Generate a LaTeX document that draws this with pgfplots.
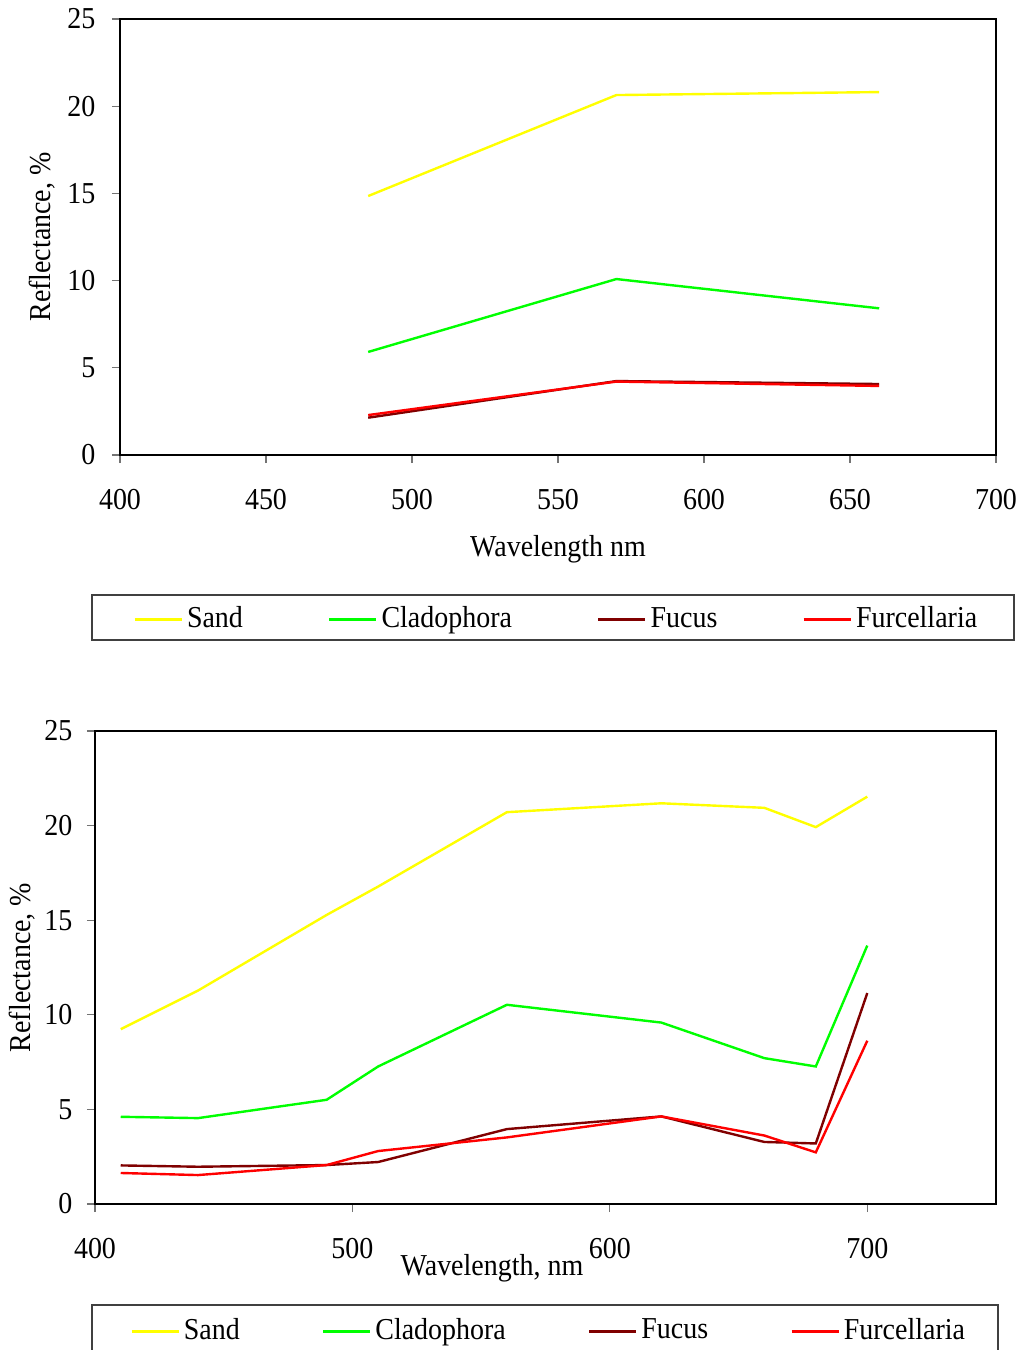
\documentclass[border=0pt]{standalone}
\usepackage{fontspec}
\setmainfont{Liberation Serif}[FakeStretch=0.92]
\usepackage{pgfplots}
\pgfplotsset{compat=1.18}

\definecolor{sandc}{RGB}{255,255,0}
\definecolor{cladc}{RGB}{0,255,0}
\definecolor{fucc}{RGB}{128,0,0}
\definecolor{furc}{RGB}{255,0,0}

\pgfplotsset{
  refl/.style={
    scale only axis,
    axis line style={line width=1pt},
    tick pos=left,
    tick align=outside,
    major tick length=4pt,
    tick style={black!55, line width=0.6pt},
    ymin=0, ymax=25, ytick={0,5,...,25},
    /pgf/number format/assume math mode=true,
    ylabel={Reflectance, \%},
    legend columns=4,
    legend image code/.code={\draw[#1, line width=1.3pt] (0pt,0pt) -- (23.5pt,0pt);},
    legend style={draw=none, fill=none, anchor=west},
    every axis plot/.append style={line width=1.2pt},
  }
}

\begin{document}
\fontsize{15.2}{18}\selectfont
\begin{tikzpicture}
\path[use as bounding box] (0,0) rectangle (510.5pt,-675pt);

% Spectra at three bands
\begin{axis}[refl,
  at={(60pt,-227.5pt)}, anchor=south west,
  width=438pt, height=218pt,
  xmin=400, xmax=700, xtick={400,450,...,700},
  xlabel={Wavelength nm},
  xlabel style={at={(axis description cs:0.5,-0.2156)}, anchor=center},
  ylabel style={at={(axis description cs:-0.089,0.5)}, anchor=center},
  xticklabel style={yshift=-8pt},
  yticklabel style={xshift=-3pt},
  legend style={at={(axis description cs:0.0080,-0.3775)},
    /tikz/every even column/.append style={column sep=40.5pt}},
]
\addplot[sandc] coordinates {(485,14.85) (570,20.64) (660,20.81)};
\addlegendentry{Sand}
\addplot[cladc] coordinates {(485,5.91) (570,10.09) (660,8.41)};
\addlegendentry{Cladophora}
\addplot[fucc] coordinates {(485,2.14) (570,4.24) (660,4.07)};
\addlegendentry{Fucus}
\addplot[furc] coordinates {(485,2.29) (570,4.21) (660,3.96)};
\addlegendentry{Furcellaria}
\end{axis}
\draw[line width=0.6pt, black!75] (46pt,-297.5pt) rectangle (507pt,-320pt);

% Spectra at nine bands
\begin{axis}[refl,
  at={(47.5pt,-602pt)}, anchor=south west,
  width=450.5pt, height=236.5pt,
  xmin=400, xmax=750, xtick={400,500,600,700},
  xlabel={Wavelength, nm},
  xlabel style={at={(axis description cs:0.4406,-0.1353)}, anchor=center},
  ylabel style={at={(axis description cs:-0.081,0.5)}, anchor=center},
  xticklabel style={yshift=-8pt},
  yticklabel style={xshift=-2pt},
  legend style={at={(axis description cs:0.0320,-0.2690)},
    /tikz/every even column/.append style={column sep=39pt}},
]
\addplot[sandc] coordinates {(410,9.24) (440,11.28) (490,15.28) (510,16.78) (560,20.71) (620,21.18) (660,20.94) (680,19.92) (700,21.53)};
\addlegendentry{Sand}
\addplot[cladc] coordinates {(410,4.61) (440,4.54) (490,5.51) (510,7.27) (560,10.53) (620,9.59) (660,7.71) (680,7.27) (700,13.66)};
\addlegendentry{Cladophora}
\addplot[fucc] coordinates {(410,2.04) (440,1.97) (490,2.06) (510,2.22) (560,3.96) (620,4.63) (660,3.28) (680,3.20) (700,11.15)};
\addlegendentry{Fucus}
\addplot[furc] coordinates {(410,1.64) (440,1.53) (490,2.06) (510,2.80) (560,3.52) (620,4.63) (660,3.62) (680,2.73) (700,8.63)};
\addlegendentry{Furcellaria}
\end{axis}
\draw[line width=0.6pt, black!75] (46pt,-652.5pt) rectangle (499pt,-685pt);
\end{tikzpicture}
\end{document}
